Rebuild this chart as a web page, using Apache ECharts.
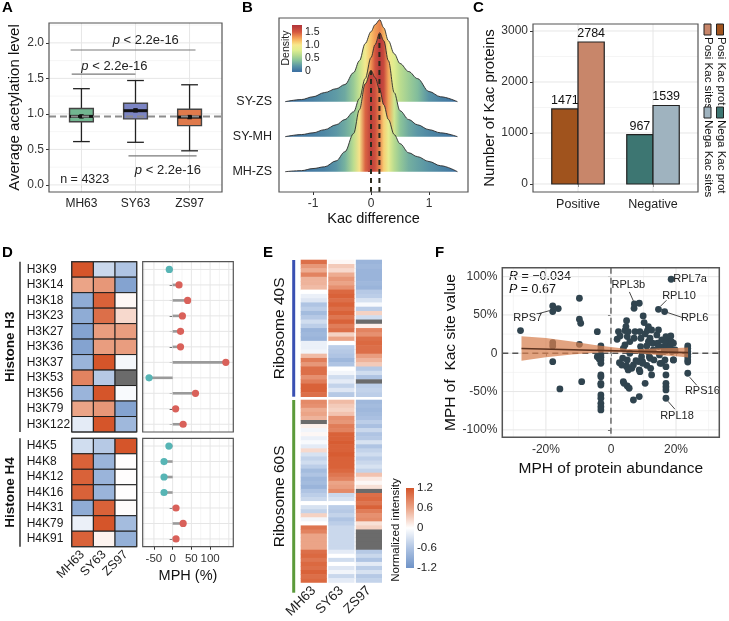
<!DOCTYPE html>
<html><head><meta charset="utf-8">
<script src="https://cdn.jsdelivr.net/npm/echarts@6/dist/echarts.min.js"></script>
<style>html,body{margin:0;padding:0;background:#fff}#c{width:729px;height:621px}</style>
</head><body><div id="c"></div>
<script>
// ================= DATA =================
// Panel A
const aGroups = ['MH63','SY63','ZS97'];
const aLow  = [0.61, 0.60, 0.48];
const aQ1   = [0.89, 0.93, 0.835];
const aMed  = [0.965, 1.045, 0.955];
const aQ3   = [1.075, 1.15, 1.065];
const aHigh = [1.355, 1.47, 1.41];
const aMean = [0.965, 1.05, 0.955];
const aRef = 0.965;
const aYTicks = [0, 0.5, 1, 1.5, 2];
const aPairX1 = [0.8, 0.82, 1.87];
const aPairX2 = [3.11, 2.0, 3.13];
const aPairY  = [1.9, 1.56, 0.41];
const aPLabX  = [2.19, 1.61, 2.6];
const aPLabY  = [2.03, 1.67, 0.2];
const aNText = 'n = 4323';
const aNPos = [1.06, 0.07];

// Panel B
const bRidges = ['MH-ZS','SY-MH','SY-ZS'];
const bX = [-1.48,-1.2,-1.0,-0.8,-0.6,-0.45,-0.3,-0.2,-0.1,0,0.07,0.15,0.22,0.3,0.4,0.5,0.65,0.8,1.0,1.2,1.49];
const bSYZS = [0,.06,.14,.26,.37,.49,.83,1.17,1.66,2.0,2.2,2.34,2.11,1.74,1.37,1.09,.86,.66,.29,.14,0];
const bSYMH = [0,.06,.11,.2,.34,.49,.71,1.09,1.66,2.26,2.63,2.97,2.74,2.17,1.26,.74,.49,.34,.2,.11,0];
const bMHZS = [0,.03,.09,.14,.31,.57,1.09,1.77,2.51,2.89,2.69,2.34,1.91,1.49,1.06,.8,.54,.43,.29,.17,0];
const bXTicks = [-1, 0, 1];
const bMedX = [0.0, 0.145];          // median lines for MH-ZS, SY-MH
const bMedRidge = ['MH-ZS','SY-MH'];
const bDensTicks = [0, 0.5, 1, 1.5];

// Panel C
const cGroups = ['Positive','Negative'];
const cProt  = [1471, 967];
const cSites = [2784, 1539];
const cYTicks = [0, 1000, 2000, 3000];
const cLegend = [['Posi Kac prot','Posi Kac sites'],['Nega Kac prot','Nega Kac sites']];

// Panel D
const dSamples = ['MH63','SY63','ZS97'];
const dH3Sites = ['H3K9','H3K14','H3K18','H3K23','H3K27','H3K36','H3K37','H3K53','H3K56','H3K79','H3K122'];
const dH3MH63 = [1.2, 0.6, -0.9, -0.9, -1.0, -1.0, -0.8, 0.85, -0.8, 0.6, -0.2];
const dH3SY63 = [-0.4, 0.7, 1.1, 1.0, 0.65, 0.65, 1.2, -0.55, 1.2, 0.7, 1.2];
const dH3ZS97 = [-0.6, -1.0, 0.05, 0.25, 0.65, 0.65, -0.08, null, -0.05, -1.0, -0.75];
const dH3MPH  = [-9, 17, 40, 26, 21, 21, 142, -63, 61, 8, 28];
const dH4Sites = ['H4K5','H4K8','H4K12','H4K16','H4K31','H4K79','H4K91'];
const dH4MH63 = [-0.35, 1.1, 1.1, 1.1, -0.9, -0.15, 1.1];
const dH4SY63 = [-0.55, -0.8, -0.8, -0.8, 1.1, 1.2, 0.08];
const dH4ZS97 = [1.2, 0.01, 0.01, 0.01, 0.02, -0.7, -0.85];
const dH4MPH  = [-10, -23, -23, -23, 9, 28, 9];
const dXTicks = [-50, 0, 50, 100];

// Panel E
const eSamples = ['MH63','SY63','ZS97'];
const e40MH63 = [1.0,0.7,0.55,0.85,0.5,0.5,0.45,0.0,-0.15,-0.25,-0.6,-0.5,-0.7,-0.55,-0.35,-0.5,-0.8,-0.75,-0.8,-0.15,-0.15,-0.1,0.45,0.9,0.7,1.0,1.0,0.75,0.9,1.1,1.1,1.0];
const e40SY63 = [0.05,0.35,0.25,0.55,0.7,0.6,0.75,1.05,1.1,1.0,1.1,1.0,1.1,0.95,1.1,0.9,1.0,0.3,0.6,0.0,-0.5,-0.55,-0.6,-0.75,-0.6,0.0,-0.1,-0.35,-0.2,-0.45,-0.25,-0.55];
const e40ZS97 = [-0.8,-0.75,-0.8,-0.8,-0.8,-0.75,-0.8,-0.55,-0.5,-0.3,-0.05,-0.5,0.3,-0.35,null,0.1,0.85,0.75,1.0,1.05,1.0,1.0,0.65,0.5,0.35,-0.55,-0.35,-0.6,null,-0.5,-0.45,-0.5];
const e60MH63 = [0.8,0.75,0.55,0.6,0.5,null,0.1,-0.1,0.05,-0.15,-0.05,-0.2,0.25,-0.3,-0.45,-0.35,-0.5,-0.7,-0.6,-0.75,-0.7,-0.8,-0.6,-0.5,-0.4,0.0,-0.3,-0.45,0.3,-0.1,0.0,0.95,0.85,0.6,0.6,0.6,0.6,1.0,1.05,0.95,1.05,1.0,1.1,1.0,1.05];
const e60SY63 = [0.45,0.35,0.3,0.4,0.75,0.7,0.9,0.85,1.1,1.1,1.15,1.1,1.1,1.15,1.1,1.1,1.1,1.05,0.95,0.85,0.6,0.65,0.8,-0.4,-0.3,0.0,-0.5,-0.55,-0.45,-0.6,-0.5,-0.4,-0.4,-0.4,-0.4,-0.4,-0.4,-0.2,0.0,-0.35,0.0,-0.25,-0.1,-0.4,-0.2];
const e60ZS97 = [-0.75,-0.7,-0.75,-0.7,-0.65,-0.5,-0.65,-0.4,-0.6,-0.55,-0.3,-0.6,-0.45,-0.35,-0.5,-0.4,-0.3,-0.45,0.4,0.15,0.05,0.2,null,1.0,1.05,0.95,1.1,0.9,0.75,0.8,0.2,0.3,null,null,null,null,null,-0.55,-0.4,-0.6,-0.2,-0.5,-0.3,-0.55,-0.45];
const eScaleTicks = [-1.2, -0.6, 0, 0.6, 1.2];

// Panel F
const fX = [-27.8,-17.9,-17.9,-16.2,-17.9,-17.9,-17.9,-15.7,-9.7,-9.7,-9.3,-9.7,-9.0,-4.2,-4.2,-3.6,
  -3.1,-3.1,-3.1,-3.1,-3.1,-3.1,-3.1,-3.1,-3.1,-3.1,-3.1,-3.1,-3.1,-3.1,-3.1,
  2.3,1.9,2.8,4.3,4.8,4.6,5.3,5.0,5.8,4.3,3.8,3.6,5.0,5.8,4.8,6.4,7.7,7.1,7.4,7.2,7.1,8.7,8.9,9.2,9.1,9.4,9.7,9.9,10.2,10.5,11.2,11.5,11.0,11.3,11.8,11.0,12.0,12.8,13.0,13.2,14.1,14.3,14.6,14.9,14.6,15.6,15.9,16.3,16.5,16.9,17.1,17.9,18.2,18.4,18.6,18.7,19.2,19.2,19.7,18.5,11.5,14.6,16.9,12.5,
  23.6,23.6,23.6,23.6,23.6,23.6,23.6,23.6,
  2.6,3.3,3.8,4.0,4.8,5.3,5.0,5.6,6.9,6.9,8.4,8.7,8.9,8.7,9.4,9.7,10.5,12.0,12.2,12.5,15.1,15.6,16.6,16.9,16.9,16.9,16.9,16.9,16.9,19.2];
const fY = [29.6,61.7,54.4,58.3,13.8,9.5,-11,-46.6,71.8,44.4,39.2,11.7,-37.1,28.2,-4.4,-7.4,
  9.6,5.2,-2.2,-5.2,-8.7,-13.1,-28.3,-30.5,-39.2,-41.4,-54.4,-58.7,-65.3,-69.7,-74,
  28.3,18.3,22.6,29.6,42.6,34.8,28.3,21.8,15.2,10.9,6.5,-6.5,-8.7,0,-16.5,-19.6,-9.6,19.6,28.3,64.4,58.7,65.3,28.3,19.6,8.7,2.2,-10.9,48.7,40.0,25.2,29.6,15.2,9.6,2.2,-4.4,-15.7,19.6,13.1,4.4,-8.7,23.9,13.1,8.7,-2.2,57.4,17.4,8.7,2.2,54.4,13.9,6.5,19.6,8.7,22.6,15.2,2.2,-8.7,13.1,4.4,96.6,34.8,30.4,21.7,30.4,
  9.6,6.5,2.2,-1.3,-4.4,-8.7,-11.5,-26.1,
  -12.3,-15.3,-37.1,-39.2,-17.5,-21.8,-42.7,-45.7,-15.3,-61,-10.9,-21.8,-24,-56.6,-4.4,-13.1,-39.2,-6.5,-19.6,-28.3,-13.1,-13.1,-8.7,-17.5,-28.3,-39.2,-43.6,-47.9,-58.7,-8.7];
const fBandX  = [-27.5,-20,-12,-5,0,5,10,15,20,23.7];
const fBandLo = [-9.7,-5.1,-1.5,0.7,1.2,0.7,-0.5,-2.5,-4.0,-5.4];
const fBandHi = [22.3,19.9,15.5,10.7,8.2,5.7,5.5,6.5,7.0,7.6];
const fFitX = [-27.5, 23.7];
const fFitY = [6.3, 0.9];
const fXTicks = [-20, 0, 20];
const fYTicks = [-100, -50, 0, 50, 100];
const fLabNames = ['RPS7','RPL3b','RPL10','RPL6','RPL7a','RPS16','RPL18'];
const fLabX = [-17.9, 7.2, 14.6, 16.5, 18.5, 23.6, 16.9];
const fLabY = [58.3, 64.4, 57.4, 54.4, 96.6, -26.1, -58.7];
const fStatR = '-0.034';
const fStatP = '0.67';

// ================= STYLE / HELPERS =================
const FONT = '"Liberation Sans", Arial, Helvetica, sans-serif';
const NA = -999, NA_COLOR = '#6b6b6b';
const heatStops = [[-1.2,'#6f93c7'],[-0.6,'#afc4e3'],[0,'#ffffff'],[0.6,'#eba487'],[1.2,'#d5552a']];
const densStops = [[0,'#3e72a2'],[0.2,'#5c98a6'],[0.4,'#86c19b'],[0.6,'#b5da8f'],[0.8,'#e0ee8f'],[1.0,'#f6e98e'],[1.15,'#f8c46a'],[1.3,'#f09653'],[1.5,'#d5573f'],[1.75,'#b3363a']];
const densPerUnit = 0.58;

function hex2rgb(h){h=h.replace('#','');return [0,2,4].map(i=>parseInt(h.substr(i,2),16));}
function rgb2hex(c){return '#'+c.map(v=>Math.round(Math.max(0,Math.min(255,v))).toString(16).padStart(2,'0')).join('');}
function scaleColor(stops, v){
  if (v<=stops[0][0]) return stops[0][1];
  for (let i=1;i<stops.length;i++){
    if (v<=stops[i][0]){ const t=(v-stops[i-1][0])/(stops[i][0]-stops[i-1][0]);
      const a=hex2rgb(stops[i-1][1]), b=hex2rgb(stops[i][1]); return rgb2hex(a.map((x,j)=>x+(b[j]-x)*t)); }
  }
  return stops[stops.length-1][1];
}
function isObj(o){return o && typeof o==='object' && !Array.isArray(o) && !(o instanceof echarts.graphic.LinearGradient);}
function merge(a,b){ for (const k in b){ if (isObj(b[k]) && isObj(a[k])) merge(a[k], b[k]); else a[k]=b[k]; } return a; }

const grids=[], xAxes=[], yAxes=[], series=[], graphics=[];
function addGrid(g){ grids.push(Object.assign({containLabel:false, show:false}, g)); return grids.length-1; }
function valAxis(gi, min, max, vals, fmt, o){
  const ax = {type:'value', gridIndex:gi, min, max,
    axisLine:{show:false},
    axisTick:{show:!!vals, length:3, lineStyle:{color:'#333', width:1}},
    axisLabel:{show:!!vals, color:'#333', fontSize:11.5, fontFamily:FONT, margin:5, formatter:fmt},
    splitLine:{show:false}, nameTextStyle:{fontFamily:FONT, color:'#111', fontSize:14.5}};
  if (vals){ ax.axisTick.customValues = vals; ax.axisLabel.customValues = vals; }
  return merge(ax, o||{});
}
function catAxis(gi, data, o){
  return merge({type:'category', gridIndex:gi, data, boundaryGap:true,
    axisLine:{show:false}, axisTick:{show:false, interval:0},
    axisLabel:{show:false, interval:0, color:'#222', fontFamily:FONT, fontSize:12},
    splitLine:{show:false}, nameTextStyle:{fontFamily:FONT, color:'#111', fontSize:14.5}}, o||{});
}
function mids(arr){ const r=[]; for(let i=0;i<arr.length-1;i++) r.push((arr[i]+arr[i+1])/2);
  if(arr.length>1){ const s=arr[1]-arr[0]; r.unshift(arr[0]-s/2); r.push(arr[arr.length-1]+s/2);} return r; }
function gridLines(gi, o){
  series.push({type:'custom', xAxisIndex:gi, yAxisIndex:gi, z:1, silent:true, data:[[o.xRef, o.yRef]],
    renderItem:(params, api)=>{
      const cs=params.coordSys, ch=[];
      const inX=p=>p>=cs.x+0.5 && p<=cs.x+cs.width-0.5, inY=p=>p>=cs.y+0.5 && p<=cs.y+cs.height-0.5;
      const vl=(v,c,w)=>{const p=api.coord([v,o.yRef])[0]; if(inX(p)) ch.push({type:'line',shape:{x1:p,y1:cs.y,x2:p,y2:cs.y+cs.height},style:{stroke:c,lineWidth:w}});};
      const hl=(v,c,w)=>{const p=api.coord([o.xRef,v])[1]; if(inY(p)) ch.push({type:'line',shape:{x1:cs.x,y1:p,x2:cs.x+cs.width,y2:p},style:{stroke:c,lineWidth:w}});};
      (o.xMin||[]).forEach(v=>vl(v,'#efefef',0.6));
      (o.yMin||[]).forEach(v=>hl(v,'#efefef',0.6));
      (o.xMaj||[]).forEach(v=>vl(v,'#e6e6e6',1));
      (o.yMaj||[]).forEach(v=>hl(v,'#e6e6e6',1));
      return {type:'group', children:ch};
    }});
}
function frame(gi, color, width){
  series.push({type:'custom', xAxisIndex:gi, yAxisIndex:gi, z:30, silent:true, data:[[0,0]],
    renderItem:(params)=>{ const cs=params.coordSys;
      return {type:'rect', shape:{x:cs.x, y:cs.y, width:cs.width, height:cs.height}, style:{fill:'none', stroke:color, lineWidth:width}}; }});
}
function txt(x,y,text,o){ return merge({type:'text', x, y, silent:true, style:{text, fill:'#111', fontFamily:FONT, fontSize:12, align:'left', verticalAlign:'middle'}}, o||{}); }

// ================= PANEL A =================
const gA = addGrid({left:49, top:23, width:173, height:169});
xAxes.push(valAxis(gA, 0.4, 3.6, [1,2,3], v=>aGroups[Math.round(v)-1], {axisLabel:{fontSize:12, color:'#222', margin:6}}));
yAxes.push(valAxis(gA, -0.1, 2.28, aYTicks, v=>v.toFixed(1), {axisLabel:{fontSize:12}, name:'Average acetylation level', nameLocation:'middle', nameGap:27, nameTextStyle:{fontSize:15}}));
gridLines(gA, {xMaj:[1,2,3], yMaj:aYTicks, yMin:mids(aYTicks), xRef:1, yRef:1});
const aColors = ['#72b590','#7c85c4','#e07a4c'];
series.push({type:'custom', xAxisIndex:gA, yAxisIndex:gA, z:3, silent:true,
  data: aGroups.map((g,i)=>[i+1, aLow[i], aQ1[i], aMed[i], aQ3[i], aHigh[i], aMean[i]]),
  encode:{x:0, y:[1,2,3,4,5]},
  renderItem:(params, api)=>{
    const x=api.value(0), hw=0.22, cw=0.155, i=params.dataIndex;
    const lo=api.coord([x, api.value(1)]), hi=api.coord([x, api.value(5)]);
    const q1=api.coord([x-hw, api.value(2)]), q3=api.coord([x+hw, api.value(4)]);
    const mL=api.coord([x-hw, api.value(3)]), mR=api.coord([x+hw, api.value(3)]);
    const cL=api.coord([x-cw, 0])[0], cR=api.coord([x+cw, 0])[0];
    const mn=api.coord([x, api.value(6)]);
    const L=(x1,y1,x2,y2,w,c)=>({type:'line', shape:{x1,y1,x2,y2}, style:{stroke:c||'#222', lineWidth:w}});
    return {type:'group', children:[
      L(lo[0],lo[1],lo[0],q1[1],1.3), L(hi[0],hi[1],hi[0],q3[1],1.3),
      L(cL,lo[1],cR,lo[1],1.3), L(cL,hi[1],cR,hi[1],1.3),
      {type:'rect', shape:{x:q1[0], y:q3[1], width:q3[0]-q1[0], height:q1[1]-q3[1]}, style:{fill:aColors[i], stroke:'#444', lineWidth:1.4}},
      L(mL[0],mL[1],mR[0],mR[1],3,'#111'),
      {type:'rect', shape:{x:mn[0]-2.2, y:mn[1]-2.2, width:4.4, height:4.4}, style:{fill:'#111'}}
    ]};
  }});
series.push({type:'custom', xAxisIndex:gA, yAxisIndex:gA, z:6, silent:true, data:[[0.4, aRef, 3.6]],
  renderItem:(params, api)=>{ const p1=api.coord([api.value(0), api.value(1)]), p2=api.coord([api.value(2), api.value(1)]);
    return {type:'line', shape:{x1:p1[0],y1:p1[1],x2:p2[0],y2:p2[1]}, style:{stroke:'#8c8c8c', lineWidth:2, lineDash:[7,4]}}; }});
series.push({type:'custom', xAxisIndex:gA, yAxisIndex:gA, z:7, silent:true,
  data: aPairX1.map((x1,i)=>[x1, aPairY[i], aPairX2[i], aPLabX[i], aPLabY[i]]),
  renderItem:(params, api)=>{
    const p1=api.coord([api.value(0), api.value(1)]), p2=api.coord([api.value(2), api.value(1)]), pt=api.coord([api.value(3), api.value(4)]);
    return {type:'group', children:[
      {type:'line', shape:{x1:p1[0],y1:p1[1],x2:p2[0],y2:p2[1]}, style:{stroke:'#7a7a7a', lineWidth:1.2}},
      {type:'text', x:pt[0], y:pt[1], style:{text:'{i|p} < 2.2e-16', fill:'#222', fontFamily:FONT, fontSize:13, align:'center', verticalAlign:'middle',
        rich:{i:{fontStyle:'italic', fontFamily:FONT, fontSize:13, fill:'#222'}}}}
    ]};
  }});
series.push({type:'custom', xAxisIndex:gA, yAxisIndex:gA, z:7, silent:true, data:[aNPos],
  renderItem:(params, api)=>{ const p=api.coord([api.value(0), api.value(1)]);
    return {type:'text', x:p[0], y:p[1], style:{text:aNText, fill:'#222', fontFamily:FONT, fontSize:12.5, align:'center', verticalAlign:'middle'}}; }});
frame(gA, '#555', 1.2);

// ================= PANEL B =================
const gB = addGrid({left:279, top:18, width:189, height:174});
xAxes.push(valAxis(gB, -1.586, 1.672, bXTicks, v=>String(v), {axisLabel:{fontSize:12, margin:6}, name:'Kac difference', nameLocation:'middle', nameGap:19}));
yAxes.push(valAxis(gB, 0.42, 5.39, [1,2,3], v=>bRidges[Math.round(v)-1], {axisLabel:{fontSize:12.5, color:'#222', margin:7}}));
const bHeights = {'SY-ZS':bSYZS, 'SY-MH':bSYMH, 'MH-ZS':bMHZS};
['SY-ZS','SY-MH','MH-ZS'].forEach((r,k)=>{
  const base = bRidges.indexOf(r)+1, h = bHeights[r];
  const x0=bX[0], x1=bX[bX.length-1];
  const stops = bX.map((x,i)=>({offset:(x-x0)/(x1-x0), color:scaleColor(densStops, h[i]*densPerUnit)}));
  series.push({type:'line', xAxisIndex:gB, yAxisIndex:gB, z:2+k, silent:true, symbol:'none', smooth:0.35, smoothMonotone:'x',
    data: bX.map((x,i)=>[x, base+h[i]]),
    lineStyle:{color:'#2a2a2a', width:0.9},
    areaStyle:{origin:base, opacity:1, color:new echarts.graphic.LinearGradient(0,0,1,0,stops)}});
});
series.push({type:'custom', xAxisIndex:gB, yAxisIndex:gB, z:8, silent:true,
  data: bMedX.map((x,i)=>{ const r=bMedRidge[i]; return [x, bRidges.indexOf(r)+1+Math.max(...bHeights[r])]; }),
  renderItem:(params, api)=>{ const p1=api.coord([api.value(0), 0.42]), p2=api.coord([api.value(0), api.value(1)]);
    return {type:'line', shape:{x1:p1[0],y1:p1[1],x2:p2[0],y2:p2[1]}, style:{stroke:'#2b2a1c', lineWidth:2, lineDash:[5,4]}}; }});
frame(gB, '#555', 1.2);
// density colour bar
const gBL = addGrid({left:292, top:25, width:10, height:47});
xAxes.push(valAxis(gBL, 0, 1, null, null));
yAxes.push(valAxis(gBL, -0.04, 1.77, bDensTicks, v=>v===0?'0':v.toFixed(1), {position:'right', axisTick:{show:false}, axisLabel:{fontSize:10.5, margin:3, color:'#222'}}));
series.push({type:'custom', xAxisIndex:gBL, yAxisIndex:gBL, z:10, silent:true, data:[[0,0]],
  renderItem:(params)=>{ const cs=params.coordSys, lo=-0.04, hi=1.77;
    const stops=densStops.map(s=>({offset:Math.max(0,Math.min(1,(s[0]-lo)/(hi-lo))), color:s[1]}));
    return {type:'rect', shape:{x:cs.x, y:cs.y, width:cs.width, height:cs.height}, style:{fill:new echarts.graphic.LinearGradient(0,1,0,0,stops)}}; }});
graphics.push(txt(286, 48, 'Density', {rotation:Math.PI/2, style:{fontSize:10.5, align:'center', fill:'#222'}}));

// ================= PANEL C =================
const gC = addGrid({left:533, top:24, width:165, height:168});
xAxes.push(valAxis(gC, 0.4, 2.6, [1,2], v=>cGroups[Math.round(v)-1], {axisLabel:{fontSize:12.5, color:'#222', margin:6}}));
yAxes.push(valAxis(gC, -157, 3137, cYTicks, v=>String(v), {axisLabel:{fontSize:12}, name:'Number of Kac proteins', nameLocation:'middle', nameGap:31, nameTextStyle:{fontSize:15}}));
gridLines(gC, {xMaj:[1,2], yMaj:cYTicks, yMin:mids(cYTicks), xRef:1, yRef:0});
const cColors = [['#a0531d','#c8866a'],['#3d7672','#9fb3bf']];
const cBarW = 0.35;
const cData = [];
cGroups.forEach((g,gi)=>{ cData.push([gi+1-cBarW/2, cProt[gi], gi, 0]); cData.push([gi+1+cBarW/2, cSites[gi], gi, 1]); });
series.push({type:'custom', xAxisIndex:gC, yAxisIndex:gC, z:3, silent:true, data:cData, encode:{x:0,y:1},
  renderItem:(params, api)=>{
    const x=api.value(0), v=api.value(1), g=api.value(2), s=api.value(3);
    const tl=api.coord([x-cBarW/2, v]), br=api.coord([x+cBarW/2, 0]);
    return {type:'group', children:[
      {type:'rect', shape:{x:tl[0], y:tl[1], width:br[0]-tl[0], height:br[1]-tl[1]}, style:{fill:cColors[g][s], stroke:'#222', lineWidth:1.2}},
      {type:'text', x:(tl[0]+br[0])/2, y:tl[1]-2, style:{text:String(v), fill:'#111', fontFamily:FONT, fontSize:12.5, align:'center', verticalAlign:'bottom'}}
    ]};
  }});
frame(gC, '#555', 1.2);
// legend
[[0,24],[1,107]].forEach(([gi,y0])=>{
  graphics.push({type:'rect', silent:true, shape:{x:704, y:y0, width:7, height:11}, style:{fill:cColors[gi][1], stroke:'#222', lineWidth:1}});
  graphics.push({type:'rect', silent:true, shape:{x:716.5, y:y0, width:7, height:11}, style:{fill:cColors[gi][0], stroke:'#222', lineWidth:1}});
  graphics.push(txt(708, y0+13, cLegend[gi][1], {rotation:-Math.PI/2, style:{fontSize:11.5, align:'left'}}));
  graphics.push(txt(721, y0+13, cLegend[gi][0], {rotation:-Math.PI/2, style:{fontSize:11.5, align:'left'}}));
});

// ================= PANEL D =================
const D = {hx:71.7, hw:65, lx:142.7, lw:90.6, t3:261.7, h3:170.3, t4:438.3, h4:108.4};
function heatSeries(gi, cols, stroke){
  const data=[]; cols.forEach((arr,ci)=>arr.forEach((v,ri)=>data.push([ci, ri, v===null?NA:v])));
  series.push({type:'custom', xAxisIndex:gi, yAxisIndex:gi, z:3, silent:true, data, encode:{x:0,y:1},
    renderItem:(params, api)=>{
      const v=api.value(2), c=api.coord([api.value(0), api.value(1)]), s=api.size([1,1]);
      const fill = v===NA ? NA_COLOR : scaleColor(heatStops, v);
      if (stroke) return {type:'rect', shape:{x:c[0]-s[0]/2, y:c[1]-s[1]/2, width:s[0], height:s[1]}, style:{fill, stroke:'#1e1e1e', lineWidth:1}};
      return {type:'rect', shape:{x:c[0]-s[0]/2+0.7, y:c[1]-s[1]/2-0.3, width:s[0]-1.4, height:s[1]+0.6}, style:{fill}};
    }});
}
function lolli(gi, vals){
  series.push({type:'custom', xAxisIndex:gi, yAxisIndex:gi, z:4, silent:true, data: vals.map((v,i)=>[v,i]), encode:{x:0,y:1},
    renderItem:(params, api)=>{
      const v=api.value(0), r=api.value(1), p0=api.coord([0,r]), p1=api.coord([v,r]);
      return {type:'group', children:[
        {type:'line', shape:{x1:p0[0],y1:p0[1],x2:p1[0],y2:p1[1]}, style:{stroke:'#9a9a9a', lineWidth:2.6}},
        {type:'circle', shape:{cx:p1[0], cy:p1[1], r:3.6}, style:{fill: v<0?'#57b5b5':'#d9615a'}}]};
    }});
}
[[dH3Sites,[dH3MH63,dH3SY63,dH3ZS97],dH3MPH,D.t3,D.h3,false],[dH4Sites,[dH4MH63,dH4SY63,dH4ZS97],dH4MPH,D.t4,D.h4,true]].forEach(([sites,cols,mph,top,h,bottom])=>{
  const gh = addGrid({left:D.hx, top, width:D.hw, height:h});
  xAxes.push(catAxis(gh, dSamples, bottom?{axisLabel:{show:true, rotate:45, fontSize:12.5, margin:6, color:'#222'}}:{}));
  yAxes.push(catAxis(gh, sites, {inverse:true, axisLabel:{show:true, align:'left', margin:45, fontSize:12, color:'#1a1a1a'}}));
  heatSeries(gh, cols, true);
  frame(gh, '#333', 1.2);
  const gl = addGrid({left:D.lx, top, width:D.lw, height:h});
  xAxes.push(valAxis(gl, -80, 162, bottom?dXTicks:null, v=>String(v), bottom?{axisLabel:{fontSize:11.5, margin:6}, name:'MPH (%)', nameLocation:'middle', nameGap:22, nameTextStyle:{fontSize:14.5}}:{}));
  yAxes.push(catAxis(gl, sites, {inverse:true, axisTick:{show:true, alignWithLabel:true, length:3, lineStyle:{color:'#333'}}}));
  gridLines(gl, {xMaj:[-50,0,50,100,150], xMin:mids([-50,0,50,100,150]), yMaj:sites.map((s,i)=>i), xRef:0, yRef:0});
  lolli(gl, mph);
  frame(gl, '#555', 1.2);
});
graphics.push(txt(10, D.t3+D.h3/2, 'Histone H3', {rotation:Math.PI/2, style:{fontSize:13.5, fontWeight:'bold', align:'center'}}));
graphics.push(txt(10, D.t4+D.h4/2, 'Histone H4', {rotation:Math.PI/2, style:{fontSize:13.5, fontWeight:'bold', align:'center'}}));
graphics.push({type:'line', silent:true, shape:{x1:20, y1:D.t3, x2:20, y2:D.t3+D.h3}, style:{stroke:'#666', lineWidth:2}});
graphics.push({type:'line', silent:true, shape:{x1:20, y1:D.t4, x2:20, y2:D.t4+D.h4}, style:{stroke:'#666', lineWidth:2}});

// ================= PANEL E =================
const E = {x:300, w:82.7, t40:260, h40:136.7, t60:400, h60:192.7};
[[[e40MH63,e40SY63,e40ZS97],E.t40,E.h40,false],[[e60MH63,e60SY63,e60ZS97],E.t60,E.h60,true]].forEach(([cols,top,h,bottom])=>{
  const g = addGrid({left:E.x, top, width:E.w, height:h});
  xAxes.push(catAxis(g, eSamples, bottom?{axisLabel:{show:true, rotate:45, fontSize:13.5, margin:6, color:'#222'}}:{}));
  yAxes.push(catAxis(g, cols[0].map((v,i)=>String(i)), {inverse:true}));
  heatSeries(g, cols, false);
});
graphics.push({type:'line', silent:true, shape:{x1:293.7, y1:E.t40, x2:293.7, y2:E.t40+E.h40}, style:{stroke:'#3a50b2', lineWidth:3}});
graphics.push({type:'line', silent:true, shape:{x1:293.7, y1:E.t60, x2:293.7, y2:E.t60+E.h60}, style:{stroke:'#5b9a3a', lineWidth:3}});
graphics.push(txt(280, E.t40+E.h40/2, 'Ribosome 40S', {rotation:Math.PI/2, style:{fontSize:15.5, align:'center'}}));
graphics.push(txt(280, E.t60+E.h60/2, 'Ribosome 60S', {rotation:Math.PI/2, style:{fontSize:15.5, align:'center'}}));
// colour bar
const gEL = addGrid({left:406, top:488, width:8, height:80});
xAxes.push(valAxis(gEL, 0, 1, null, null));
yAxes.push(valAxis(gEL, -1.2, 1.2, eScaleTicks, v=>v===0?'0':v.toFixed(1), {position:'right', axisTick:{show:false}, axisLabel:{fontSize:11.5, margin:3, color:'#222'}}));
series.push({type:'custom', xAxisIndex:gEL, yAxisIndex:gEL, z:10, silent:true, data:[[0,0]],
  renderItem:(params)=>{ const cs=params.coordSys;
    const stops=heatStops.map(s=>({offset:(s[0]+1.2)/2.4, color:s[1]}));
    return {type:'rect', shape:{x:cs.x, y:cs.y, width:cs.width, height:cs.height}, style:{fill:new echarts.graphic.LinearGradient(0,1,0,0,stops)}}; }});
graphics.push(txt(396, 530, 'Normalized intensity', {rotation:Math.PI/2, style:{fontSize:11.5, align:'center'}}));

// ================= PANEL F =================
const gF = addGrid({left:502.3, top:267.7, width:217, height:169.6});
xAxes.push(valAxis(gF, -33.4, 33.3, fXTicks, v=>v===0?'0':v+'%', {axisLabel:{fontSize:12, margin:6}, name:'MPH of protein abundance', nameLocation:'middle', nameGap:23, nameTextStyle:{fontSize:15.5}}));
yAxes.push(valAxis(gF, -109.7, 111.7, fYTicks, v=>v===0?'0':v+'%', {axisLabel:{fontSize:12}, name:'MPH of  Kac site value', nameLocation:'middle', nameGap:40, nameTextStyle:{fontSize:15.5}}));
gridLines(gF, {xMaj:fXTicks, xMin:mids(fXTicks), yMaj:fYTicks, yMin:mids(fYTicks), xRef:0, yRef:0});
series.push({type:'custom', xAxisIndex:gF, yAxisIndex:gF, z:2, silent:true, data:[[0,0]],
  renderItem:(params, api)=>{ const cs=params.coordSys, p=api.coord([0,0]);
    return {type:'group', children:[
      {type:'line', shape:{x1:p[0],y1:cs.y,x2:p[0],y2:cs.y+cs.height}, style:{stroke:'#555', lineWidth:1.3, lineDash:[6,4]}},
      {type:'line', shape:{x1:cs.x,y1:p[1],x2:cs.x+cs.width,y2:p[1]}, style:{stroke:'#555', lineWidth:1.3, lineDash:[6,4]}}]}; }});
series.push({type:'scatter', xAxisIndex:gF, yAxisIndex:gF, z:3, silent:true, symbolSize:6.8, data:fX.map((x,i)=>[x,fY[i]]), itemStyle:{color:'#30444f', opacity:1}});
// confidence band polygon through the axes
series.push({type:'custom', xAxisIndex:gF, yAxisIndex:gF, z:4, silent:true, data:fBandX.map((x,i)=>[x,fBandLo[i],fBandHi[i]]), encode:{x:0,y:[1,2]},
  renderItem:(params, api)=>{
    if (params.dataIndexInside!==0) return null;
    const n=params.dataInsideLength, up=[], dn=[];
    for (let j=0;j<n;j++){ const x=api.value(0,j); up.push(api.coord([x, api.value(2,j)])); dn.push(api.coord([x, api.value(1,j)])); }
    return {type:'polygon', shape:{points: up.concat(dn.reverse())}, style:{fill:'#d7804f', opacity:0.72}};
  }});
series.push({type:'line', xAxisIndex:gF, yAxisIndex:gF, z:5, silent:true, symbol:'none', data:fFitX.map((x,i)=>[x,fFitY[i]]), lineStyle:{color:'#5e3420', width:1.6}});
const fLabStyle = { // text centre offset (tdx,tdy) and leader line offsets (l1x,l1y,l2x,l2y) in px
  RPS7:[-25,9.5,-3,2,-14,5], RPL3b:[-6,-19,-1,-3,-5,-12], RPL10:[20.5,-13.3,2,-3,8,-9], RPL6:[30,6.4,3,1,18,6],
  RPL7a:[19,0,0,0,0,0], RPS16:[14.6,17.7,2,4,9,12], RPL18:[11,17.7,2,3,9,11]};
series.push({type:'custom', xAxisIndex:gF, yAxisIndex:gF, z:8, silent:true, data:fLabX.map((x,i)=>[x,fLabY[i]]),
  renderItem:(params, api)=>{ const p=api.coord([api.value(0), api.value(1)]), s=fLabStyle[fLabNames[params.dataIndex]];
    const ch=[{type:'text', x:p[0]+s[0], y:p[1]+s[1], style:{text:fLabNames[params.dataIndex], fill:'#222', fontFamily:FONT, fontSize:11, align:'center', verticalAlign:'middle'}}];
    if (s[4]||s[5]) ch.push({type:'line', shape:{x1:p[0]+s[2], y1:p[1]+s[3], x2:p[0]+s[4], y2:p[1]+s[5]}, style:{stroke:'#333', lineWidth:0.9}});
    return {type:'group', children:ch}; }});
frame(gF, '#555', 1.5);
graphics.push(txt(509, 277, '{i|R} = \u2212'+fStatR.replace('-',''), {style:{fontSize:12.5, rich:{i:{fontStyle:'italic', fontSize:12.5, fontFamily:FONT, fill:'#111'}}}}));
graphics.push(txt(509, 290, '{i|P} = '+fStatP, {style:{fontSize:12.5, rich:{i:{fontStyle:'italic', fontSize:12.5, fontFamily:FONT, fill:'#111'}}}}));

// ================= LETTERS =================
[['A',2,8],['B',242,8],['C',473,8],['D',2,253],['E',263,253],['F',435,253]].forEach(([t,x,y])=>graphics.push(txt(x,y,t,{style:{fontSize:15, fontWeight:'bold', fill:'#000'}})));

const chart = echarts.init(document.getElementById('c'), null, {renderer:'canvas'});
chart.setOption({animation:false, backgroundColor:'#fff', grid:grids, xAxis:xAxes, yAxis:yAxes, series, graphic:{elements:graphics}});
</script></body></html>
